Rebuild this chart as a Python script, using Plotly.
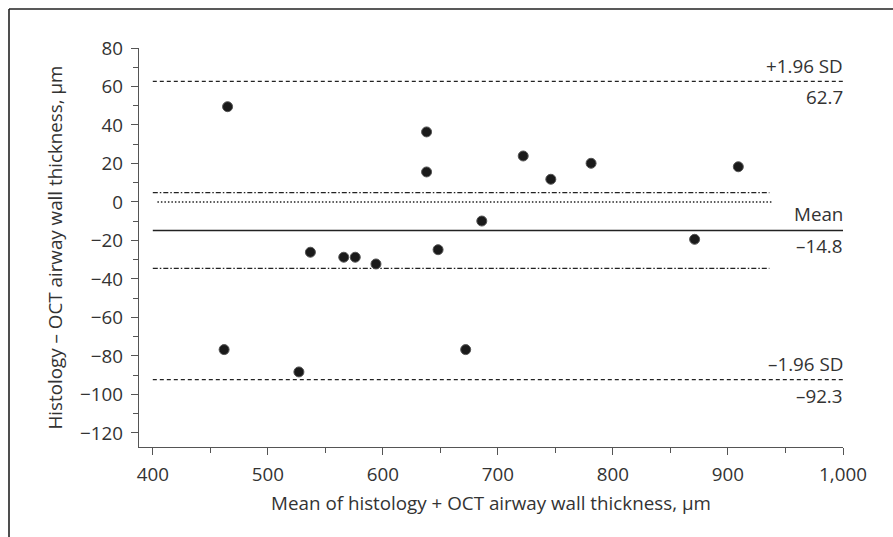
import plotly.graph_objects as go

# Data
mean_vals = [465, 462, 527, 537, 566, 576, 594, 638, 638, 648, 672, 686, 722, 746, 781, 871, 909]
diff_vals = [49.5, -76.7, -88.3, -26.1, -28.7, -28.7, -32.2, 36.4, 15.6, -24.8, -76.7, -9.9, 23.9, 11.8, 20.1, -19.4, 18.3]

mean_diff = -14.8
upper_loa = 62.7
lower_loa = -92.3
ci_upper = 4.9
ci_lower = -34.5
line_x = [400, 1000]
ci_x = [400, 936]
zero_x = [404, 938]

FONT = "Open Sans"
FS = 18.8
TXT = "#333333"
AX = "#555555"

fig = go.Figure()

def hline(xs, y, dash, width=1.3, color="#222222"):
    fig.add_trace(go.Scatter(x=xs, y=[y, y], mode="lines",
                             line=dict(color=color, width=width, dash=dash),
                             hoverinfo="skip", showlegend=False))

hline(line_x, upper_loa, "4px,3px")
hline(line_x, lower_loa, "4px,3px")
hline(line_x, mean_diff, "solid", width=1.6)
hline(ci_x, ci_upper, "5px,2px,1.5px,2px")
hline(ci_x, ci_lower, "5px,2px,1.5px,2px")
hline(zero_x, 0, "1.5px,2px")

fig.add_trace(go.Scatter(x=mean_vals, y=diff_vals, mode="markers",
                         marker=dict(size=10, color="#1a1a1a",
                                     line=dict(color="#555555", width=1)),
                         showlegend=False))

labels = [("+1.96 SD", upper_loa, 15), ("62.7", upper_loa, -16),
          ("Mean", mean_diff, 16), ("\u201314.8", mean_diff, -16),
          ("\u20131.96 SD", lower_loa, 16), ("\u201392.3", lower_loa, -16)]
for txt, y, shift in labels:
    fig.add_annotation(x=1000, y=y, text=txt, showarrow=False,
                       xanchor="right", yanchor="middle", yshift=shift, xshift=2,
                       font=dict(family=FONT, size=FS, color=TXT))

L, R, T, B = 139, 50, 48, 90
W, H = 893 - L - R, 537 - T - B
# outer frame (left and top lines)
fig.add_shape(type="line", xref="paper", yref="paper",
              x0=(9 - L) / W, x1=(9 - L) / W, y0=(537 - B - 540) / H, y1=(537 - B - 9) / H,
              line=dict(color="#222222", width=1.6))
fig.add_shape(type="line", xref="paper", yref="paper",
              x0=(9 - L) / W, x1=(900 - L) / W, y0=(537 - B - 9) / H, y1=(537 - B - 9) / H,
              line=dict(color="#222222", width=1.6))

fig.update_layout(
    width=893, height=537,
    margin=dict(l=L, r=R, t=T, b=B),
    paper_bgcolor="white", plot_bgcolor="white",
    font=dict(family=FONT, size=FS, color=TXT),
    xaxis=dict(range=[388, 1000], showgrid=False, zeroline=False,
               showline=True, linecolor=AX, linewidth=1.3,
               ticks="outside", ticklen=7, tickcolor=AX, tickwidth=1.3,
               tick0=400, dtick=100, tickformat=",", ticklabelstandoff=3,
               minor=dict(ticks="outside", ticklen=5, tickcolor=AX, tickwidth=1.3, dtick=50, tick0=400),
               title=dict(text="Mean of histology + OCT airway wall thickness, \u00b5m",
                          font=dict(size=FS, color=TXT), standoff=11),
               tickfont=dict(size=FS, color=TXT)),
    yaxis=dict(range=[-127.3, 80], showgrid=False, zeroline=False,
               showline=True, linecolor=AX, linewidth=1.3,
               ticks="outside", ticklen=7, tickcolor=AX, tickwidth=1.3,
               tick0=0, dtick=20, ticklabelstandoff=4,
               minor=dict(ticks="outside", ticklen=5, tickcolor=AX, tickwidth=1.3, dtick=10),
               title=dict(text="Histology \u2013 OCT airway wall thickness, \u00b5m",
                          font=dict(size=FS, color=TXT), standoff=12),
               tickfont=dict(size=FS, color=TXT)),
)

fig.write_html("out.html")
